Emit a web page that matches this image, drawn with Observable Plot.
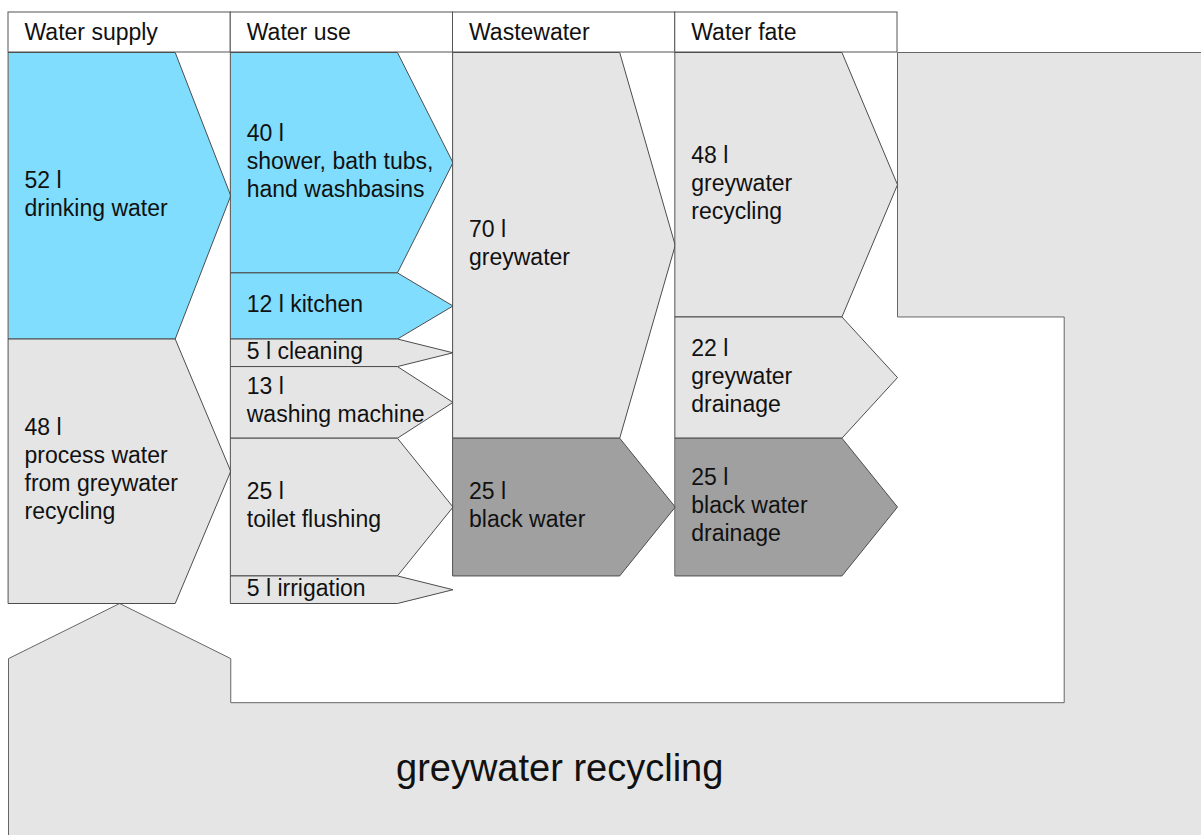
<!DOCTYPE html>
<html>
<head>
<meta charset="utf-8">
<script src="https://cdn.jsdelivr.net/npm/d3@7"></script>
<script src="https://cdn.jsdelivr.net/npm/@observablehq/plot@0.6"></script>
<style>
  html, body { margin: 0; padding: 0; background: #fff; }
  svg { display: block; }
</style>
</head>
<body>
<div id="chart"></div>
<script>
// ---- Data ----
const columnTitles = ["Water supply", "Water use", "Wastewater", "Water fate"];

const supplyLabels = ["drinking water", "process water\nfrom greywater\nrecycling"];
const supplyValues = [52, 48];
const supplyKinds  = ["drinking", "grey"];
const supplyInline = [false, false];

const useLabels = ["shower, bath tubs,\nhand washbasins", "kitchen", "cleaning", "washing machine", "toilet flushing", "irrigation"];
const useValues = [40, 12, 5, 13, 25, 5];
const useKinds  = ["drinking", "drinking", "grey", "grey", "grey", "grey"];
const useInline = [false, true, true, false, false, true];

const wasteLabels = ["greywater", "black water"];
const wasteValues = [70, 25];
const wasteKinds  = ["grey", "black"];
const wasteInline = [false, false];

const fateLabels = ["greywater\nrecycling", "greywater\ndrainage", "black water\ndrainage"];
const fateValues = [48, 22, 25];
const fateKinds  = ["grey", "grey", "black"];
const fateInline = [false, false, false];

const loopLabel = "greywater recycling";
const unit = "l";

// ---- Styles / layout ----
const W = 1201, H = 835;
const colPx = 222.25, leftPx = 8;      // pixel size of one column
const pxPerLitre = 5.51, topPx = 52;   // pixel size of one litre
const kindColor = {drinking: "#80ddfd", grey: "#e5e5e5", black: "#a0a0a0"};
const font = "'Liberation Sans', Arial, sans-serif";

// ---- Build shapes from the data ----
const columns = [
  {labels: supplyLabels, values: supplyValues, kinds: supplyKinds, inline: supplyInline},
  {labels: useLabels, values: useValues, kinds: useKinds, inline: useInline},
  {labels: wasteLabels, values: wasteValues, kinds: wasteKinds, inline: wasteInline},
  {labels: fateLabels, values: fateValues, kinds: fateKinds, inline: fateInline}
];

const boxes = [];
columns.forEach((col, c) => {
  let acc = 0;
  col.values.forEach((v, i) => {
    boxes.push({
      id: `${c}-${i}`, col: c, y0: acc, y1: acc + v, kind: col.kinds[i],
      text: `${v} ${unit}${col.inline[i] ? " " : "\n"}${col.labels[i]}`
    });
    acc += v;
  });
});

const body = 0.75; // arrow body share of a column
const polyPts = [];
boxes.forEach(b => {
  const mid = (b.y0 + b.y1) / 2;
  [[b.col, b.y0], [b.col + body, b.y0], [b.col + 1, mid], [b.col + body, b.y1], [b.col, b.y1]]
    .forEach(([x, y]) => polyPts.push({id: b.id, x, y, color: kindColor[b.kind]}));
});

// Recycling loop shape: derived from total supply and recycled volume
const total = d3.sum(supplyValues);
const recycled = fateValues[0];
const yMax = (H - topPx) / pxPerLitre;
const xMax = (W - leftPx) / colPx;
const loopTop = total + 10, loopInner = total + 18;
const loopPts = [
  [0, yMax + 5], [0, loopTop], [0.5, total], [1, loopTop], [1, loopInner],
  [4 + body, loopInner], [4 + body, recycled], [4, recycled], [4, 0],
  [xMax + 1, 0], [xMax + 1, yMax + 5]
].map(([x, y]) => ({x, y}));

const headerTop = -40 / pxPerLitre;
const headers = columnTitles.map((t, i) => ({t, x1: i, x2: i + 1}));

const plot = Plot.plot({
  width: W, height: H,
  margin: 0,
  x: {domain: [-leftPx / colPx, xMax], range: [0, W], axis: null},
  y: {domain: [-topPx / pxPerLitre, yMax], range: [0, H], axis: null},
  color: {type: "identity"},
  style: {fontFamily: font, background: "#fff"},
  marks: [
    Plot.line(loopPts, {x: "x", y: "y", curve: "linear-closed", fill: "#e5e5e5", stroke: "#666", strokeWidth: 1}),
    Plot.rect(headers, {x1: "x1", x2: "x2", y1: headerTop, y2: 0, fill: "#fff", stroke: "#555", strokeWidth: 1}),
    Plot.text(headers, {x: "x1", y: headerTop / 2, text: "t", textAnchor: "start", dx: 16, fontSize: 23, fill: "#111", lineAnchor: "middle"}),
    Plot.line(polyPts, {x: "x", y: "y", z: "id", fill: "color", curve: "linear-closed", stroke: "#4d4d4d", strokeWidth: 1}),
    Plot.text(boxes, {x: "col", y: d => (d.y0 + d.y1) / 2, text: "text", textAnchor: "start", dx: 16, dy: -3, fontSize: 23, lineHeight: 1.22, lineAnchor: "middle", fill: "#111"}),
    Plot.text([loopLabel], {x: 2.48, y: (loopInner + yMax) / 2, text: d => d, fontSize: 38, textAnchor: "middle", lineAnchor: "middle", fill: "#111"})
  ]
});
document.getElementById("chart").appendChild(plot);
</script>
</body>
</html>
